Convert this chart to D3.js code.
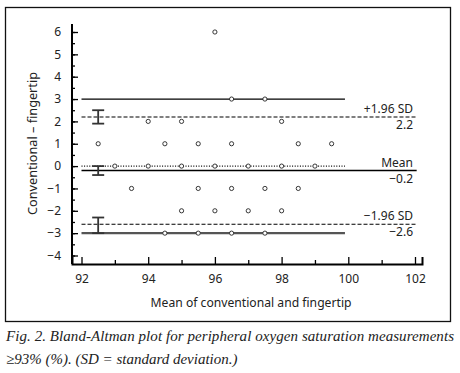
<!DOCTYPE html>
<html>
<head>
<meta charset="utf-8">
<script src="https://cdn.jsdelivr.net/npm/d3@7"></script>
<style>
  body { margin: 0; background: #fff; }
  svg { display: block; }
</style>
</head>
<body>
<svg id="chart" width="460" height="373"></svg>
<script>
// mean of the two methods (x) and their difference (y), one entry per point
const means = [96, 96.5, 97.5, 94, 95, 98, 92.5, 94.5, 95.5, 96.5, 98.5, 99.5,
  93, 94, 95, 96, 97, 98, 99, 93.5, 95.5, 96.5, 97.5, 98.5,
  95, 96, 97, 98, 94.5, 95.5, 96.5, 97.5];
const diffs = [6, 3, 3, 2, 2, 2, 1, 1, 1, 1, 1, 1,
  0, 0, 0, 0, 0, 0, 0, -1, -1, -1, -1, -1,
  -2, -2, -2, -2, -3, -3, -3, -3];

// bias and limits of agreement, with their confidence intervals
const limitValues = [2.2, -0.2, -2.6];
const limitNames = ['+1.96 SD', 'Mean', '\u22121.96 SD'];
const limitTexts = ['2.2', '\u22120.2', '\u22122.6'];
const limitCiLow = [1.9, -0.4, -3.0];
const limitCiHigh = [2.5, 0, -2.3];
const ciAt = 92.5;

// the extra horizontal lines through the point rows
const rowLines = [3, 0, -3];
const rowLineEnd = 99.9;

const xTicks = [92, 94, 96, 98, 100, 102];
const yTicks = [-4, -3, -2, -1, 0, 1, 2, 3, 4, 5, 6];

const svg = d3.select('#chart');
const fmt = d => String(d).replace('-', '\u2212');

const x = d3.scaleLinear().domain([91.715, 102.21]).range([72, 422]);
const y = d3.scaleLinear().domain([6, -4]).range([32, 255.5]);
const yTop = y.invert(24);
const yBottom = y.invert(264);

// frame
svg.append('rect')
  .attr('x', 5.5).attr('y', 7.5)
  .attr('width', 445).attr('height', 314)
  .attr('fill', 'none')
  .attr('stroke', '#111')
  .attr('stroke-width', 1.3);

const plot = svg.append('g');

// row lines
const rowStyles = [
  { stroke: '#000', width: 1.3, dash: null },
  { stroke: '#000', width: 1.1, dash: '1,1.6' },
  { stroke: '#555', width: 2.2, dash: null },
];
plot.selectAll('line.row')
  .data(rowLines)
  .enter()
  .append('line')
  .attr('class', 'row')
  .attr('x1', x(92)).attr('x2', x(rowLineEnd))
  .attr('y1', d => y(d)).attr('y2', d => y(d))
  .attr('stroke', (d, i) => rowStyles[i].stroke)
  .attr('stroke-width', (d, i) => rowStyles[i].width)
  .attr('stroke-dasharray', (d, i) => rowStyles[i].dash);

// limit lines
plot.selectAll('line.limit')
  .data(limitValues)
  .enter()
  .append('line')
  .attr('class', 'limit')
  .attr('x1', x(92)).attr('x2', x(102.05))
  .attr('y1', d => y(d)).attr('y2', d => y(d))
  .attr('stroke', '#000')
  .attr('stroke-width', (d, i) => i === 1 ? 1.5 : 1.1)
  .attr('stroke-dasharray', (d, i) => i === 1 ? null : '4,2');

// confidence interval bars
const ci = plot.selectAll('g.ci')
  .data(limitValues)
  .enter()
  .append('g')
  .attr('class', 'ci')
  .attr('stroke', '#333')
  .attr('stroke-width', 1.8);
ci.append('line')
  .attr('x1', x(ciAt)).attr('x2', x(ciAt))
  .attr('y1', (d, i) => y(limitCiHigh[i]))
  .attr('y2', (d, i) => y(limitCiLow[i]));
ci.append('line')
  .attr('x1', x(ciAt - 0.18)).attr('x2', x(ciAt + 0.18))
  .attr('y1', (d, i) => y(limitCiHigh[i]))
  .attr('y2', (d, i) => y(limitCiHigh[i]));
ci.append('line')
  .attr('x1', x(ciAt - 0.18)).attr('x2', x(ciAt + 0.18))
  .attr('y1', (d, i) => y(limitCiLow[i]))
  .attr('y2', (d, i) => y(limitCiLow[i]));

// points
plot.selectAll('circle')
  .data(means)
  .enter()
  .append('circle')
  .attr('cx', d => x(d))
  .attr('cy', (d, i) => y(diffs[i]))
  .attr('r', 2.1)
  .attr('fill', '#fff')
  .attr('stroke', '#222')
  .attr('stroke-width', 0.9);

// limit labels
const labelFont = '"Noto Sans", sans-serif';
plot.selectAll('text.lname')
  .data(limitValues)
  .enter()
  .append('text')
  .attr('class', 'lname')
  .attr('x', 413).attr('y', d => y(d) - 4)
  .attr('text-anchor', 'end')
  .attr('font-family', labelFont)
  .attr('font-size', 12)
  .attr('fill', '#222')
  .text((d, i) => limitNames[i]);
plot.selectAll('text.lval')
  .data(limitValues)
  .enter()
  .append('text')
  .attr('class', 'lval')
  .attr('x', 413).attr('y', d => y(d) + 12)
  .attr('text-anchor', 'end')
  .attr('font-family', labelFont)
  .attr('font-size', 12)
  .attr('fill', '#222')
  .text((d, i) => limitTexts[i]);

// axes
const halfTicks = d3.range(-4, 6.01, 0.5);
const oddTicks = [93, 95, 97, 99, 101];

const yMinor = svg.append('g')
  .attr('transform', `translate(${x.range()[0]},0)`)
  .call(d3.axisLeft(y).tickValues(halfTicks).tickSize(-3).tickFormat(''));
yMinor.select('.domain').remove();

const yAxis = svg.append('g')
  .attr('transform', `translate(${x.range()[0]},0)`)
  .call(d3.axisLeft(y).tickValues(yTicks).tickSize(-6).tickPadding(11).tickFormat(fmt));
yAxis.select('.domain').attr('d', `M0,${y(yTop)}V${y(yBottom)}`);

const xMinor = svg.append('g')
  .attr('transform', 'translate(0,264)')
  .call(d3.axisBottom(x).tickValues(oddTicks).tickSize(-4).tickFormat(''));
xMinor.select('.domain').remove();

const xAxis = svg.append('g')
  .attr('transform', 'translate(0,264)')
  .call(d3.axisBottom(x).tickValues(xTicks).tickSize(-7).tickPadding(10).tickFormat(d3.format('d')));

svg.selectAll('.domain').attr('stroke', '#000').attr('stroke-width', 2);
svg.selectAll('.tick line').attr('stroke', '#000').attr('stroke-width', 1.3);
svg.selectAll('.tick text')
  .attr('font-family', labelFont)
  .attr('font-size', 12)
  .attr('fill', '#222');

// axis titles
svg.append('text')
  .attr('x', 251).attr('y', 307)
  .attr('text-anchor', 'middle')
  .attr('font-family', labelFont)
  .attr('font-size', 12)
  .attr('fill', '#222')
  .attr('textLength', 201)
  .attr('lengthAdjust', 'spacingAndGlyphs')
  .text('Mean of conventional and fingertip');

svg.append('text')
  .attr('transform', 'translate(37,143.5) rotate(-90)')
  .attr('text-anchor', 'middle')
  .attr('font-family', labelFont)
  .attr('font-size', 12)
  .attr('fill', '#222')
  .attr('textLength', 143)
  .attr('lengthAdjust', 'spacingAndGlyphs')
  .text('Conventional \u2013 fingertip');

// caption
const captionLines = [
  'Fig. 2. Bland-Altman plot for peripheral oxygen saturation measurements',
  '\u226593% (%). (SD = standard deviation.)',
];
svg.selectAll('text.caption')
  .data(captionLines)
  .enter()
  .append('text')
  .attr('class', 'caption')
  .attr('x', 6)
  .attr('y', (d, i) => 341 + i * 23)
  .attr('font-family', '"Liberation Serif", serif')
  .attr('font-style', 'italic')
  .attr('font-size', 15)
  .attr('fill', '#222')
  .attr('textLength', (d, i) => i === 0 ? 448 : null)
  .attr('lengthAdjust', 'spacing')
  .text(d => d);
</script>
</body>
</html>
